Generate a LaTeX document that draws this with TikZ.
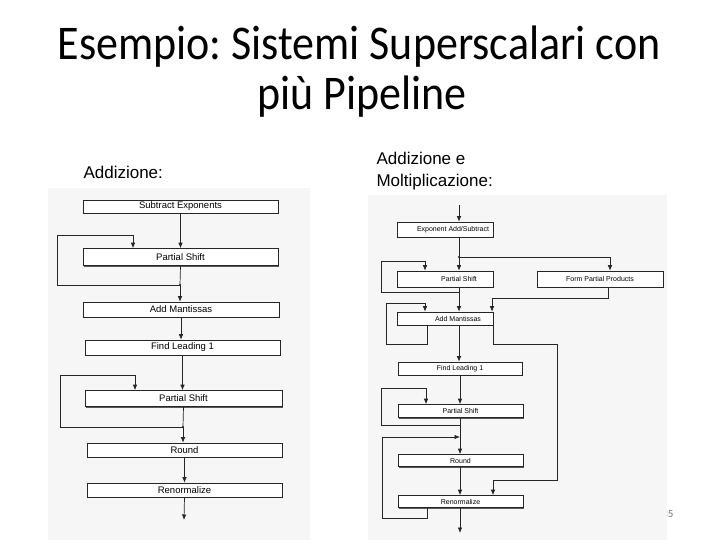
\documentclass[tikz,border=0pt]{standalone}
\usepackage{fontspec}
\setmainfont{Carlito}
\newfontfamily\arialf{Liberation Sans}
\usetikzlibrary{shadows,arrows.meta}
\frenchspacing
\begin{document}
\begin{tikzpicture}[x=1pt,y=-1pt,
  ln/.style={draw=black!85, line width=0.7pt},
  arr/.style={ln, -{Latex[length=5.5pt,width=4.5pt]}},
  box/.style={draw=black!85, fill=white, line width=0.6pt, inner sep=0pt,
    drop shadow={shadow xshift=1.3pt, shadow yshift=-1.3pt, fill=black!65, opacity=1}},
  lbox/.style={box, font=\arialf\fontsize{9.5}{10}\selectfont},
  rbox/.style={box, font=\arialf\fontsize{7}{8}\selectfont},
  rtext/.style={inner sep=0pt, font=\arialf\fontsize{7}{8}\selectfont},
  titlef/.style={font=\fontsize{44}{50}\selectfont, anchor=base, inner sep=0pt, yscale=1.1, transform shape},
  dot/.style={circle, fill=black!85, inner sep=0pt, minimum size=2.4pt}]
\useasboundingbox (0,0) rectangle (720,540);
% page number (partly hidden)
\node[anchor=east, text=black!55, font=\fontsize{11}{12}\selectfont] (pg) at (677,514) {35};
% scan panels
\fill[black!3.5] (48,188) rectangle (310,540);
\fill[black!3.5] (368,195) rectangle (667,540);
% title
\node[titlef] (t1) at (359,60) {Esempio: Sistemi Superscalari con};
\node[titlef] (t2) at (362,110) {più Pipeline};
\node[anchor=west, font=\arialf\fontsize{17}{22}\selectfont] (sa) at (80,172) {Addizione:};
\node[anchor=west, align=left, font=\arialf\fontsize{17}{22}\selectfont] (sb) at (373,171)
  {Addizione e\\Moltiplicazione:};
% ---------- left chart ----------
\node[lbox, minimum width=195pt, minimum height=13pt] (L1) at (180.5,206.5) {Subtract Exponents};
\node[lbox, minimum width=195pt, minimum height=17pt] (L2) at (180.5,257) {Partial Shift};
\node[lbox, minimum width=196pt, minimum height=15pt] (L3) at (181,309.5) {Add Mantissas};
\node[lbox, minimum width=195pt, minimum height=15pt] (L4) at (182.5,347.5) {Find Leading 1};
\node[lbox, minimum width=197pt, minimum height=16pt] (L5) at (183.5,398.5) {Partial Shift};
\node[lbox, minimum width=195pt, minimum height=14pt] (L6) at (184.5,450) {Round};
\node[lbox, minimum width=195pt, minimum height=14pt] (L7) at (184.5,490) {Renormalize};
\draw[arr] (L1.south) -- (L1.south |- L2.north);
\coordinate (j1) at (180,285);
\draw[ln] (L2.south) -- (j1);
\draw[arr] (j1) -- (j1 |- L3.north);
\draw[ln] (j1) -- (57,285) -- (57,235) -- (133,235);
\coordinate (a1) at (133,235);
\draw[arr] (a1) -- (a1 |- L2.north);
\node[dot] (d1) at (j1) {};
\draw[arr] (L3.south) -- (L3.south |- L4.north);
\draw[arr] (L4.south) -- (L4.south |- L5.north);
\coordinate (j2) at (183,427);
\draw[ln] (L5.south) -- (j2);
\draw[arr] (j2) -- (j2 |- L6.north);
\draw[ln] (j2) -- (60,427) -- (60,375) -- (135,375);
\coordinate (a2) at (135,375);
\draw[arr] (a2) -- (a2 |- L5.north);
\node[dot] (d2) at (j2) {};
\draw[arr] (L6.south) -- (L6.south |- L7.north);
\coordinate (lo) at (184,520);
\draw[arr] (L7.south) -- (lo);
% ---------- right chart ----------
\node[rbox, minimum width=96pt, minimum height=15pt] (R1) at (445,229.5) {};
\node[rtext] (R1t) at (453,229.5) {Exponent Add/Subtract};
\node[rbox, minimum width=96pt, minimum height=16pt] (R2) at (445,279) {};
\node[rtext] (R2t) at (459,279) {Partial Shift};
\node[rbox, minimum width=126pt, minimum height=16pt] (R3) at (600,279) {Form Partial Products};
\node[rbox, minimum width=96pt, minimum height=13pt] (R4) at (445,318.5) {};
\node[rtext] (R4t) at (458,318.5) {Add Mantissas};
\node[rbox, minimum width=124pt, minimum height=13pt] (R5) at (460,368.5) {Find Leading 1};
\node[rbox, minimum width=125pt, minimum height=13pt] (R6) at (460.5,411) {Partial Shift};
\node[rbox, minimum width=125pt, minimum height=12pt] (R7) at (460.5,460.5) {Round};
\node[rbox, minimum width=125pt, minimum height=12pt] (R8) at (460.5,501.5) {Renormalize};
% input
\coordinate (ri) at (459,205);
\draw[arr] (ri) -- (ri |- R1.north);
% split to R2 and R3
\coordinate (j3) at (459,257);
\draw[ln] (j3 |- R1.south) -- (j3);
\draw[arr] (j3) -- (j3 |- R2.north);
\coordinate (a3) at (610,257);
\draw[ln] (j3) -- (a3);
\draw[arr] (a3) -- (a3 |- R3.north);
\node[dot] (d3) at (j3) {};
% R2 loop
\coordinate (j4) at (459,292);
\draw[ln] (j4 |- R2.south) -- (j4);
\draw[arr] (j4) -- (j4 |- R4.north);
\draw[ln] (j4) -- (381,292) -- (381,261) -- (425,261);
\coordinate (a4) at (425,261);
\draw[arr] (a4) -- (a4 |- R2.north);
% R3 to R4
\coordinate (c5) at (608,298);
\draw[ln] (c5 |- R3.south) -- (c5) -- (492,298);
\coordinate (a5) at (492,298);
\draw[arr] (a5) -- (a5 |- R4.north);
% R4 loop
\coordinate (b6) at (427,344);
\draw[ln] (b6 |- R4.south) -- (b6) -- (386,344) -- (386,303) -- (425,303);
\coordinate (a6) at (425,303);
\draw[arr] (a6) -- (a6 |- R4.north);
% R4 right branch to R8
\coordinate (b7) at (493,344);
\draw[ln] (b7 |- R4.south) -- (b7) -- (557,344) -- (557,480) -- (493,480);
\coordinate (a7) at (493,480);
\draw[arr] (a7) -- (a7 |- R8.north);
% main line
\draw[arr] (459,0 |- R4.south) -- (459,0 |- R5.north);
\draw[arr] (460,0 |- R5.south) -- (460,0 |- R6.north);
\coordinate (j8) at (460,425);
\draw[ln] (j8 |- R6.south) -- (j8);
\draw[arr] (j8) -- (j8 |- R7.north);
\draw[ln] (j8) -- (381,425) -- (381,388) -- (426,388);
\coordinate (a8) at (426,388);
\draw[arr] (a8) -- (a8 |- R6.north);
% R8 loop back into line above R7
\coordinate (b9) at (427,518);
\draw[ln] (b9 |- R8.south) -- (b9) -- (382,518) -- (382,437);
\coordinate (c9) at (382,437);
\coordinate (e9) at (460,437);
\draw[arr] (c9) -- (e9);
\draw[arr] (460,0 |- R7.south) -- (460,0 |- R8.north);
\coordinate (ro) at (460,533);
\draw[arr] (460,0 |- R8.south) -- (ro);
\end{tikzpicture}
\end{document}
